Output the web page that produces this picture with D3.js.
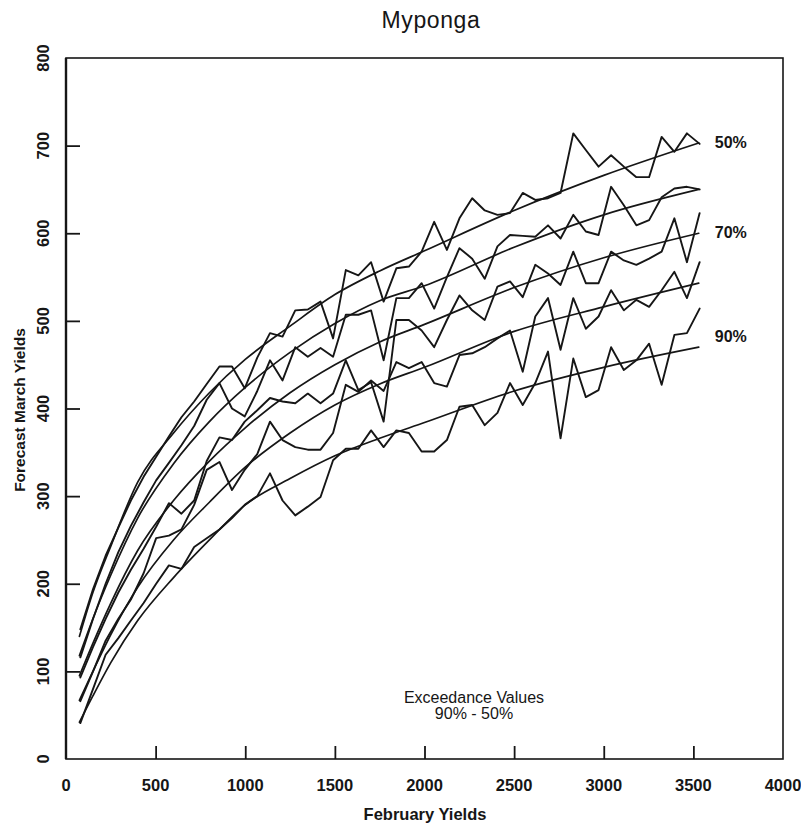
<!DOCTYPE html>
<html>
<head>
<meta charset="utf-8">
<script src="https://cdn.jsdelivr.net/npm/d3@7/dist/d3.min.js"></script>
<style>
  html, body { margin: 0; padding: 0; background: #fff; }
  svg text { font-family: "Liberation Sans", Arial, Helvetica, sans-serif; fill: #161616; }
</style>
</head>
<body>
<svg id="chart" width="801" height="824"></svg>
<script>
// February yields at which the March forecasts were produced
const febYields = [80, 151, 221, 292, 362, 433, 503, 574, 644, 715,
                   785, 856, 926, 997, 1067, 1138, 1208, 1279, 1349, 1420,
                   1490, 1561, 1631, 1702, 1772, 1843, 1913, 1984, 2054, 2125,
                   2195, 2266, 2336, 2407, 2477, 2548, 2618, 2689, 2759, 2830,
                   2900, 2971, 3041, 3112, 3182, 3253, 3323, 3394, 3464, 3535];

// Forecast March yields, one series per exceedance level (raw)
const raw50 = [148, 194, 232, 264, 295, 322, 345, 368, 390, 408,
               428, 448, 448, 423, 458, 486, 482, 512, 513, 522,
               480, 558, 552, 567, 522, 560, 562, 579, 613, 581,
               617, 640, 626, 621, 623, 646, 638, 640, 646, 714,
               695, 676, 689, 676, 664, 664, 710, 693, 714, 702];
const raw60 = [116, 160, 200, 236, 266, 293, 318, 338, 358, 380,
               410, 429, 400, 391, 420, 455, 432, 470, 459, 469,
               459, 507, 507, 512, 455, 526, 526, 543, 514, 550,
               583, 571, 548, 585, 598, 597, 596, 609, 594, 621,
               602, 598, 653, 632, 609, 615, 641, 651, 653, 650];
const raw70 = [93, 128, 160, 190, 216, 240, 265, 292, 280, 295,
               340, 367, 364, 385, 398, 412, 408, 406, 417, 406,
               417, 455, 421, 430, 385, 501, 501, 489, 470, 501,
               529, 512, 501, 539, 545, 527, 564, 554, 541, 579,
               543, 543, 579, 569, 564, 571, 579, 617, 567, 623];
const raw80 = [66, 100, 135, 160, 182, 212, 252, 255, 262, 290,
               330, 339, 307, 330, 348, 385, 364, 356, 353, 353,
               372, 427, 419, 432, 420, 453, 446, 453, 429, 425,
               461, 463, 470, 480, 489, 442, 505, 526, 467, 526,
               491, 505, 535, 512, 524, 516, 535, 556, 526, 567];
const raw90 = [41, 80, 119, 138, 158, 178, 200, 221, 217, 242,
               252, 262, 275, 290, 300, 326, 295, 278, 288, 299,
               341, 354, 354, 375, 356, 375, 372, 351, 351, 364,
               402, 404, 381, 395, 429, 404, 429, 465, 366, 457,
               413, 421, 470, 444, 455, 474, 427, 484, 486, 514];

// Fitted exceedance curves
const fitYields = [75, 150, 250, 400, 600, 800, 1000, 1250, 1500, 1750, 2000, 2500, 3000, 3530];
const fit50 = [140, 190, 243, 316, 372, 418, 456, 494, 530, 557, 580, 626, 666, 703];
const fit60 = [118, 160, 210, 275, 337, 385, 424, 464, 497, 523, 540, 584, 621, 650];
const fit70 = [95, 132, 178, 238, 295, 340, 378, 418, 450, 476, 496, 538, 572, 600];
const fit80 = [67, 100, 142, 196, 250, 293, 333, 372, 404, 428, 447, 488, 516, 543];
const fit90 = [42, 72, 110, 158, 207, 250, 290, 320, 346, 366, 384, 420, 447, 470];

const curveNames = ["50%", "60%", "70%", "80%", "90%"];
const labelledCurves = ["50%", "70%", "90%"];

const xTicks = [0, 500, 1000, 1500, 2000, 2500, 3000, 3500, 4000];
const yTicks = [0, 100, 200, 300, 400, 500, 600, 700, 800];

const titleText = "Myponga";
const xTitle = "February Yields";
const yTitle = "Forecast March Yields";
const noteLines = ["Exceedance Values", "90% - 50%"];

// ---------------------------------------------------------------
const svg = d3.select("#chart");
const ink = "#161616";

const x = d3.scaleLinear().domain([0, 4000]).range([66, 783]);
const y = d3.scaleLinear().domain([0, 800]).range([759, 58]);

const rawSeries = [raw50, raw60, raw70, raw80, raw90];
const fitSeries = [fit50, fit60, fit70, fit80, fit90];

// plot frame
svg.append("rect")
  .attr("x", x(0)).attr("y", y(800))
  .attr("width", x(4000) - x(0)).attr("height", y(0) - y(800))
  .attr("fill", "none").attr("stroke", ink).attr("stroke-width", 1.6);
svg.append("line")
  .attr("x1", x(0)).attr("x2", x(0)).attr("y1", y(800)).attr("y2", y(0))
  .attr("stroke", ink).attr("stroke-width", 2.4);

// axes: ticks pointing into the plot, labels drawn separately
const xAxis = d3.axisBottom(x).tickValues(xTicks).tickSizeInner(-13).tickSizeOuter(0).tickFormat("");
svg.append("g").attr("transform", `translate(0,${y(0)})`).call(xAxis)
  .call(g => g.select(".domain").remove())
  .call(g => g.selectAll(".tick line").attr("stroke", ink).attr("stroke-width", 1.8))
  .call(g => g.selectAll(".tick").filter(d => d === 0 || d === 4000).remove());

const yAxis = d3.axisLeft(y).tickValues(yTicks).tickSizeInner(-14).tickSizeOuter(0).tickFormat("");
svg.append("g").attr("transform", `translate(${x(0)},0)`).call(yAxis)
  .call(g => g.select(".domain").remove())
  .call(g => g.selectAll(".tick line").attr("stroke", ink).attr("stroke-width", 1.8))
  .call(g => g.selectAll(".tick").filter(d => d === 0 || d === 800).remove());

// tick labels
svg.append("g").selectAll("text").data(xTicks).join("text")
  .attr("x", d => x(d)).attr("y", 791)
  .attr("text-anchor", "middle")
  .attr("font-size", 16.5).attr("font-weight", "bold")
  .text(d => d);

svg.append("g").selectAll("text").data(yTicks).join("text")
  .attr("transform", d => `translate(49,${y(d)}) rotate(-90)`)
  .attr("text-anchor", "middle")
  .attr("font-size", 16.5).attr("font-weight", "bold")
  .text(d => d);

// axis titles and chart title
svg.append("text").attr("x", 431).attr("y", 28).attr("text-anchor", "middle")
  .attr("font-size", 23).attr("letter-spacing", 0.6).text(titleText);
svg.append("text").attr("x", 425).attr("y", 820).attr("text-anchor", "middle")
  .attr("font-size", 16.5).attr("font-weight", "bold").text(xTitle);
svg.append("text").attr("transform", "translate(25,410) rotate(-90)").attr("text-anchor", "middle")
  .attr("font-size", 15.5).attr("font-weight", "bold").text(yTitle);

// lines
const fitLine = d3.line().x((d, i) => x(fitYields[i])).y(d => y(d)).curve(d3.curveMonotoneX);
const rawLine = d3.line().x((d, i) => x(febYields[i])).y(d => y(d));

const plot = svg.append("g").attr("fill", "none").attr("stroke", ink)
  .attr("stroke-linejoin", "round").attr("stroke-linecap", "round");
plot.selectAll("path.fit").data(fitSeries).join("path")
  .attr("class", "fit").attr("d", fitLine).attr("stroke-width", 1.7);
plot.selectAll("path.raw").data(rawSeries).join("path")
  .attr("class", "raw").attr("d", rawLine).attr("stroke-width", 1.9);

// curve end labels
svg.append("g").selectAll("text")
  .data(curveNames.map((name, k) => ({ name, v: fitSeries[k][fitSeries[k].length - 1] }))
    .filter(d => labelledCurves.includes(d.name)))
  .join("text")
  .attr("x", x(fitYields[fitYields.length - 1]) + 16)
  .attr("y", d => y(d.v) + 5 - (d.name === "90%" ? 10 : 0))
  .attr("font-size", 16).attr("font-weight", "bold")
  .text(d => d.name);

// note
svg.append("g").selectAll("text").data(noteLines).join("text")
  .attr("x", 474).attr("y", (d, i) => 703 + i * 15.5)
  .attr("text-anchor", "middle").attr("font-size", 16)
  .text(d => d);
</script>
</body>
</html>
